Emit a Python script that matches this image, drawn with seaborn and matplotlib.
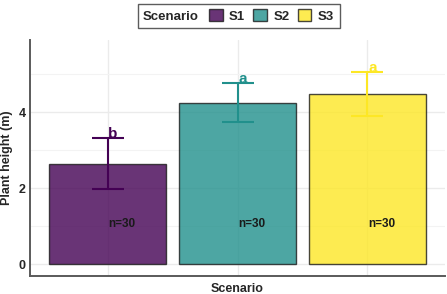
import pandas as pd
import matplotlib
matplotlib.use("Agg")
import matplotlib.pyplot as plt
import seaborn as sns
from matplotlib.offsetbox import HPacker

# data
scenarios = ["S1", "S2", "S3"]
mean_height = [2.65, 4.25, 4.47]
sd_height = [0.67, 0.51, 0.58]
letters = ["b", "a", "a"]
n_labels = ["n=30", "n=30", "n=30"]

colors = ["#440154", "#21908C", "#FDE725"]

df = pd.DataFrame({"Scenario": scenarios, "height": mean_height, "sd": sd_height})

sns.set_style("whitegrid")
plt.rcParams["font.family"] = ["Liberation Sans", "DejaVu Sans"]
plt.rcParams["font.weight"] = "bold"

fig, ax = plt.subplots(figsize=(4.47, 2.94), dpi=100)
fig.subplots_adjust(left=0.067, right=0.996, bottom=0.062, top=0.864)

sns.barplot(data=df, x="Scenario", y="height", hue="Scenario",
            palette=colors, saturation=1, alpha=0.8, width=0.9,
            edgecolor="#1a1a1a", linewidth=1.0, legend=False, ax=ax)

# error bars, letters and n labels
for i, s in enumerate(scenarios):
    ax.errorbar(i, mean_height[i], yerr=sd_height[i], color=colors[i],
                capsize=11.5, capthick=1.5, elinewidth=1.5, zorder=5)
    ax.text(i + 0.04, mean_height[i] + sd_height[i] - 0.07, letters[i],
            color=colors[i], ha="center", va="bottom",
            fontsize=11, fontweight="bold", zorder=6)
    ax.text(i + 0.11, 1.05, n_labels[i], ha="center", va="center",
            fontsize=8.5, fontweight="bold", color="#1a1a1a", zorder=6)

ax.set_xlim(-0.6, 2.6)
ax.set_ylim(-0.3, 5.9)
ax.set_yticks([0, 2, 4])
ax.set_yticks([1, 3, 5], minor=True)
ax.set_xticks([0, 1, 2])
ax.set_xticklabels([])
ax.grid(True, which="major", color="#ebebeb", linewidth=1.0)
ax.grid(True, which="minor", axis="y", color="#f3f3f3", linewidth=0.8)
ax.set_axisbelow(True)
ax.tick_params(axis="both", length=0, labelsize=9, pad=3)
ax.tick_params(axis="x", pad=0)
for lab in ax.get_yticklabels():
    lab.set_fontweight("bold")

for side in ["top", "right"]:
    ax.spines[side].set_visible(False)
for side in ["left", "bottom"]:
    ax.spines[side].set_color("#5a5a5a")
    ax.spines[side].set_linewidth(1.4)

ax.set_xlabel("Scenario", fontsize=9, fontweight="bold", labelpad=5)
ax.set_ylabel("Plant height (m)", fontsize=9, fontweight="bold", labelpad=4)

# legend across the top with the title inline
handles = ax.patches[:3]
leg = fig.legend(handles, scenarios, loc="center", bbox_to_anchor=(0.534, 0.946),
                 ncol=3, title="Scenario", frameon=True, fancybox=False,
                 edgecolor="#333333", fontsize=9.5, title_fontsize=9.5,
                 handlelength=1.05, handleheight=1.05, handletextpad=0.5,
                 columnspacing=0.6, borderpad=0.4)
leg.get_frame().set_linewidth(1.0)
leg.get_title().set_fontweight("bold")
for t in leg.get_texts():
    t.set_fontweight("bold")
leg._legend_box = HPacker(pad=leg.borderpad * 9.5, sep=7, align="baseline",
                          children=[leg._legend_title_box, leg._legend_handle_box])
leg._legend_box.set_figure(fig)
leg._set_loc(leg._loc)

fig.savefig("out.png", dpi=100)
